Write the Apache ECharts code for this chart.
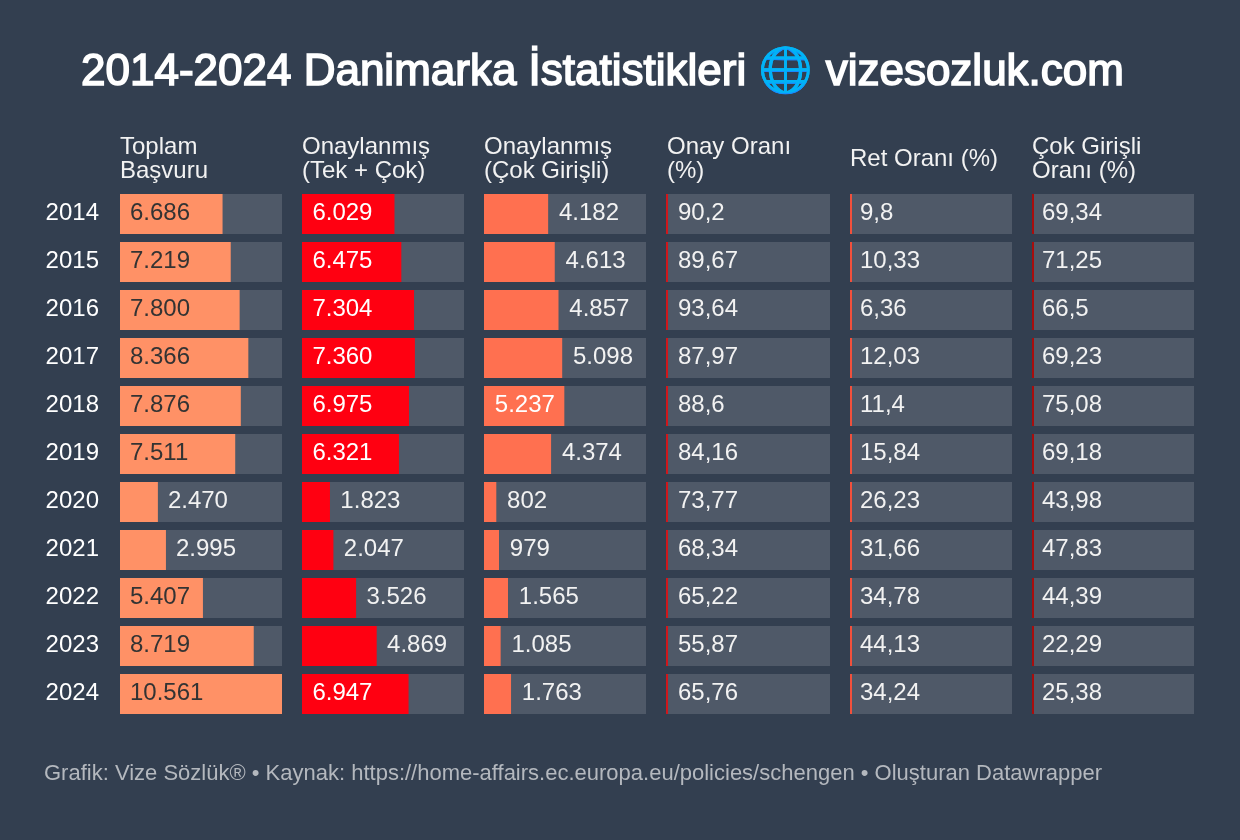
<!DOCTYPE html>
<html><head><meta charset="utf-8">
<style>html,body{margin:0;padding:0;background:#333f50}#c{width:1240px;height:840px}</style>
<script src="https://cdn.jsdelivr.net/npm/echarts@6/dist/echarts.min.js"></script>
</head><body><div id="c"></div>
<script>
const years=['2014','2015','2016','2017','2018','2019','2020','2021','2022','2023','2024'];
const toplam=[6686,7219,7800,8366,7876,7511,2470,2995,5407,8719,10561];
const onayTekCok=[6029,6475,7304,7360,6975,6321,1823,2047,3526,4869,6947];
const onayCok=[4182,4613,4857,5098,5237,4374,802,979,1565,1085,1763];
const onayOrani=['90,2','89,67','93,64','87,97','88,6','84,16','73,77','68,34','65,22','55,87','65,76'];
const retOrani=['9,8','10,33','6,36','12,03','11,4','15,84','26,23','31,66','34,78','44,13','34,24'];
const cokOrani=['69,34','71,25','66,5','69,23','75,08','69,18','43,98','47,83','44,39','22,29','25,38'];
const headers=['Toplam\nBaşvuru','Onaylanmış\n(Tek + Çok)','Onaylanmış\n(Çok Girişli)','Onay Oranı\n(%)','Ret Oranı (%)','Çok Girişli\nOranı (%)'];
const titleText='2014-2024 Danimarka İstatistikleri {g|🌐} vizesozluk.com';
const footer='Grafik: Vize Sözlük® • Kaynak: https://home-affairs.ec.europa.eu/policies/schengen • Oluşturan Datawrapper';

const FONT='"Liberation Sans",Arial,sans-serif';
const BG='#333f50',TRACK='#4f5968';
const lefts=[120,302,484,666,850,1032];
const widths=[162,162,162,164,162,162];
const headLefts=[120,302,484,667,850,1032];
const barColors=['#ff9166','#ff0011','#ff7050'];
const inkColors=['#333333','#ffffff','#ffffff'];
const accent=['#d0171c','#f2503c','#a80c0c'];
const scaleMax=10561;
const insideFrom=5200;
const labelDx=[0,0.4,0.8];
const rateDx=[12,10,10];

const grids=lefts.map((l,i)=>({left:l,top:190,width:widths[i],height:528}));
const xAxes=lefts.map((_,i)=>({gridIndex:i,type:'value',min:0,max:scaleMax,show:false}));
const yAxes=lefts.map((_,i)=>({gridIndex:i,type:'category',inverse:true,data:years,
  axisLine:{show:false},axisTick:{show:false},splitLine:{show:false},
  axisLabel:{show:i===0,margin:21,formatter:'{y|{value}}',
    rich:{y:{color:'#ffffff',fontSize:24,fontFamily:FONT,padding:[0,0,2,0]}}}}));

const barSeries=[toplam,onayTekCok,onayCok].map((vals,i)=>({
  type:'bar',xAxisIndex:i,yAxisIndex:i,barWidth:40,silent:true,
  showBackground:true,backgroundStyle:{color:TRACK},
  itemStyle:{color:barColors[i]},
  data:vals.map(v=>{
    const inside=v>=insideFrom;
    return {value:v,label:{show:true,position:inside?'insideLeft':'right',distance:10,offset:[labelDx[i],-1],
      color:inside?inkColors[i]:'#f2f2f2',fontSize:24,fontFamily:FONT,
      formatter:()=>String(v).replace(/(\d)(?=\d{3}$)/,'$1.')}};
  })
}));

const rateSeries=[onayOrani,retOrani,cokOrani].map((vals,k)=>{
  const i=k+3;
  return {type:'custom',xAxisIndex:i,yAxisIndex:i,silent:true,
    data:vals.map((v,r)=>[scaleMax,r,v]),
    encode:{x:0,y:1},
    renderItem:(p,api)=>{
      const end=api.coord([scaleMax,api.value(1)]);
      const st=api.coord([0,api.value(1)]);
      return {type:'group',children:[
        {type:'rect',shape:{x:st[0],y:st[1]-20,width:end[0]-st[0],height:40},style:{fill:TRACK}},
        {type:'rect',shape:{x:st[0],y:st[1]-20,width:2,height:40},style:{fill:accent[k]}},
        {type:'text',style:{x:st[0]+rateDx[k],y:st[1]-1,text:vals[api.value(1)],fill:'#f2f2f2',fontSize:24,fontFamily:FONT,verticalAlign:'middle',align:'left'}}
      ]};
    }};
});

const titles=[{text:titleText,left:81,top:51,padding:0,textStyle:{color:'#fff',fontSize:44,fontWeight:'normal',fontFamily:FONT,
    textBorderColor:'#fff',textBorderWidth:1.6,
    rich:{g:{color:'#0ea5ff',textBorderColor:'#0ea5ff',textBorderWidth:1.6,fontSize:44,fontFamily:FONT}}}}]
 .concat(headers.map((h,i)=>({text:h,left:headLefts[i],top:159.5,textVerticalAlign:'middle',padding:0,
   textStyle:{color:'#f2f2f2',fontSize:24,fontWeight:'normal',fontFamily:FONT,lineHeight:24}})))
 .concat([{text:footer,left:44,top:763,padding:0,textStyle:{color:'#b4b8be',fontSize:22,fontWeight:'normal',fontFamily:FONT}}]);

const chart=echarts.init(document.getElementById('c'),null,{renderer:'canvas'});
chart.setOption({animation:false,backgroundColor:BG,title:titles,grid:grids,xAxis:xAxes,yAxis:yAxes,series:barSeries.concat(rateSeries)});
</script></body></html>
